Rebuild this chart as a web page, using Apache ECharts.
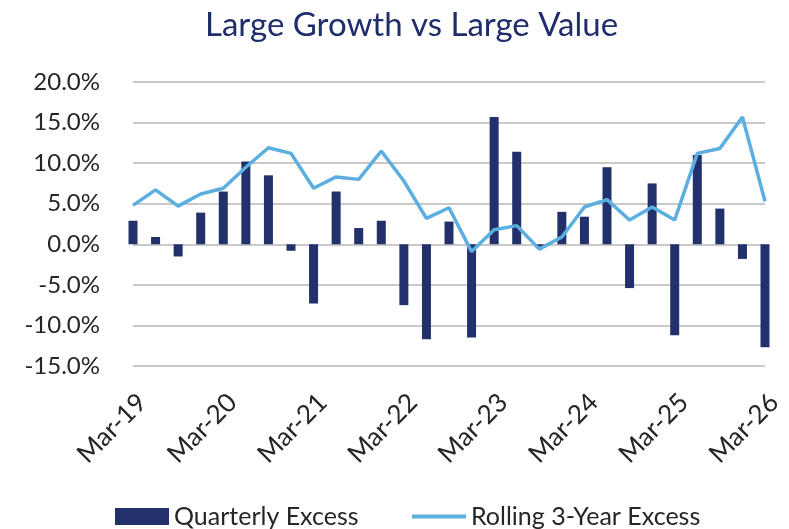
<!DOCTYPE html>
<html lang="en">
<head>
    <meta charset="utf-8">
    <style>
        html, body, #container {
          width: 789px;
          height: 529px;
          margin: 0;
          padding: 0;
          background: #ffffff;
        }
    </style>
</head>
<body>
<div id="container"></div>
<script type="text/javascript" src="https://cdn.jsdelivr.net/npm/echarts@6/dist/echarts.min.js"></script>
<script type="text/javascript">
  // quarterly, Mar-19 .. Mar-26
  var quarters = ['Mar-19','Jun-19','Sep-19','Dec-19','Mar-20','Jun-20','Sep-20','Dec-20',
    'Mar-21','Jun-21','Sep-21','Dec-21','Mar-22','Jun-22','Sep-22','Dec-22',
    'Mar-23','Jun-23','Sep-23','Dec-23','Mar-24','Jun-24','Sep-24','Dec-24',
    'Mar-25','Jun-25','Sep-25','Dec-25','Mar-26'];
  var quarterlyExcess = [2.9, 0.9, -1.5, 3.9, 6.5, 10.2, 8.5, -0.8,
    -7.3, 6.5, 2.0, 2.9, -7.5, -11.7, 2.8, -11.5,
    15.7, 11.4, -0.3, 4.0, 3.4, 9.5, -5.4, 7.5,
    -11.2, 11.0, 4.4, -1.8, -12.7];
  var rollingExcess = [4.8, 6.7, 4.7, 6.2, 6.9, 9.5, 11.9, 11.2,
    6.9, 8.3, 8.0, 11.5, 7.8, 3.2, 4.5, -0.9,
    1.8, 2.3, -0.6, 0.9, 4.6, 5.5, 3.0, 4.6,
    3.0, 11.2, 11.8, 15.7, 5.3];

  var dom = document.getElementById('container');
  var myChart = echarts.init(dom, null, { renderer: 'canvas' });

  var fontName = 'Lato';
  var legendText = {
    fontFamily: fontName,
    fontSize: 25,
    color: '#262626'
  };
  var option = {
    animation: false,
    title: {
      text: 'Large Growth vs Large Value',
      left: 200,
      top: 4,
      textStyle: {
        fontFamily: fontName,
        fontSize: 33,
        fontWeight: 'normal',
        color: '#1F2D6B'
      }
    },
    legend: [
      {
        left: 110,
        top: 499,
        itemWidth: 54,
        itemHeight: 17,
        textStyle: legendText,
        data: [{ name: 'Quarterly Excess', icon: 'rect' }]
      },
      {
        left: 407,
        top: 499,
        itemWidth: 54,
        itemHeight: 4,
        textStyle: legendText,
        data: [{ name: 'Rolling 3-Year Excess', icon: 'rect' }]
      }
    ],
    grid: {
      left: 133,
      right: 24,
      top: 82,
      height: 284
    },
    xAxis: {
      type: 'category',
      data: quarters,
      boundaryGap: false,
      axisLine: { show: false },
      axisTick: { show: false },
      axisLabel: {
        interval: 3,
        rotate: 45,
        margin: 23,
        verticalAlign: 'top',
        fontFamily: fontName,
        fontSize: 26,
        color: '#262626'
      }
    },
    yAxis: {
      type: 'value',
      min: -15,
      max: 20,
      interval: 5,
      axisLine: { show: false },
      axisTick: { show: false },
      axisLabel: {
        margin: 33,
        fontFamily: fontName,
        fontSize: 24,
        color: '#262626',
        formatter: function (v) { return v.toFixed(1) + '%'; }
      },
      splitLine: {
        lineStyle: { color: '#B7B7B7', width: 1.5 }
      }
    },
    series: [
      {
        name: 'Quarterly Excess',
        type: 'bar',
        data: quarterlyExcess,
        barWidth: 9,
        itemStyle: { color: '#22306B' }
      },
      {
        name: 'Rolling 3-Year Excess',
        type: 'line',
        data: rollingExcess,
        symbol: 'none',
        lineStyle: { color: '#5BAEE0', width: 3.5 },
        itemStyle: { color: '#5BAEE0' }
      }
    ]
  };
  myChart.setOption(option);
  window.addEventListener('resize', myChart.resize);
</script>
</body>
</html>
